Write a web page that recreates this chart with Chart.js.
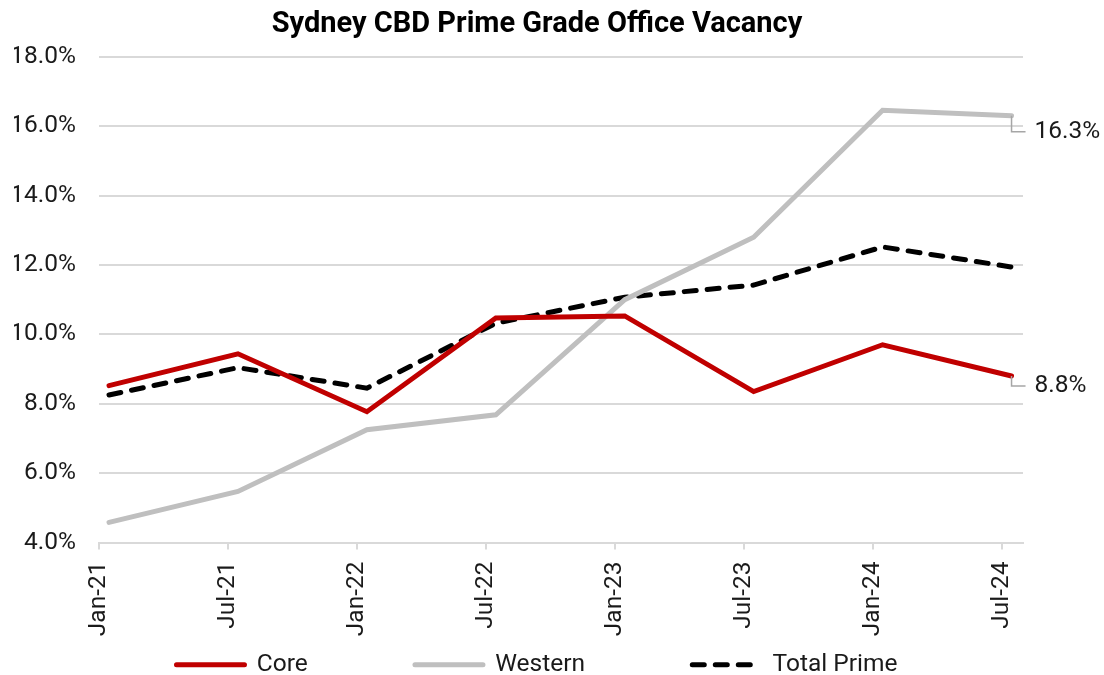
<!DOCTYPE html>
<html>
<head>
<meta charset="utf-8">
<script src="https://cdn.jsdelivr.net/npm/chart.js@4"></script>
<style>
    html, body { margin: 0; background: #fff; }
    #wrap { width: 1104px; height: 675px; }
</style>
</head>
<body>
<div id="wrap"><canvas id="chartCanvas"></canvas></div>
<script>
// DATA
const surveyDates = ['2021-01-15', '2021-07-15', '2022-01-15', '2022-07-15', '2023-01-15', '2023-07-15', '2024-01-15', '2024-07-15'];
const tickLabels = ['Jan-21', 'Jul-21', 'Jan-22', 'Jul-22', 'Jan-23', 'Jul-23', 'Jan-24', 'Jul-24'];
const core = [8.52, 9.44, 7.77, 10.47, 10.53, 8.35, 9.70, 8.8];
const western = [4.58, 5.47, 7.25, 7.68, 11.0, 12.8, 16.46, 16.3];
const totalPrime = [8.25, 9.04, 8.45, 10.32, 11.07, 11.42, 12.52, 11.94];
const yTicks = [4, 6, 8, 10, 12, 14, 16, 18];

const FONT = 'Roboto, sans-serif';
const TEXT = '#1a1a1a';
const GRID = '#d9d9d9';
const FS = 24.5;

// months since Jan-21
function toMonths(s) {
    const [y, m, d] = s.split('-').map(Number);
    return (y - 2021) * 12 + (m - 1) + (d - 1) / 30;
}

function toPoints(values) {
    return values.map((v, i) => ({ x: toMonths(surveyDates[i]), y: v }));
}

// END LABELS WITH LEADER
const endLabels = {
    id: 'endLabels',
    afterDatasetsDraw(chart, args, opts) {
        const { ctx } = chart;
        ctx.save();
        opts.items.forEach(item => {
            const meta = chart.getDatasetMeta(item.dataset);
            const pt = meta.data[meta.data.length - 1];
            const values = chart.data.datasets[item.dataset].data;
            const value = values[values.length - 1].y;
            const ly = pt.y + item.dy;
            ctx.strokeStyle = '#a6a6a6';
            ctx.lineWidth = 1.5;
            ctx.beginPath();
            ctx.moveTo(pt.x, pt.y);
            ctx.lineTo(pt.x, ly);
            ctx.lineTo(pt.x + 14, ly);
            ctx.stroke();
            ctx.fillStyle = TEXT;
            ctx.font = FS + 'px ' + FONT;
            ctx.textAlign = 'left';
            ctx.textBaseline = 'middle';
            ctx.fillText(value.toFixed(1) + '%', pt.x + 23, ly);
        });
        ctx.restore();
    }
};

const ctx = document.getElementById('chartCanvas').getContext('2d');

new Chart(ctx, {
    type: 'line',
    data: {
        datasets: [{
            label: 'Core',
            data: toPoints(core),
            borderColor: '#c00000',
            borderWidth: 5,
            borderCapStyle: 'round'
        }, {
            label: 'Western',
            data: toPoints(western),
            borderColor: '#bfbfbf',
            borderWidth: 5,
            borderCapStyle: 'round'
        }, {
            label: 'Total Prime',
            data: toPoints(totalPrime),
            borderColor: '#000000',
            borderWidth: 5,
            borderDash: [12, 11],
            borderCapStyle: 'round'
        }]
    },
    options: {
        responsive: true,
        maintainAspectRatio: false,
        animation: false,
        layout: { padding: { left: 14, right: 44, top: 0, bottom: -12 } },
        elements: { point: { radius: 0 }, line: { tension: 0 } },
        plugins: {
            title: {
                display: true,
                text: 'Sydney CBD Prime Grade Office Vacancy',
                color: '#000',
                font: { family: FONT, size: 29, weight: 'bold' },
                padding: { top: 7, bottom: 15 }
            },
            legend: {
                position: 'bottom',
                labels: {
                    usePointStyle: true,
                    pointStyle: 'line',
                    pointStyleWidth: 68,
                    padding: 10,
                    color: TEXT,
                    font: { family: FONT, size: FS },
                    generateLabels(chart) {
                        const items = Chart.defaults.plugins.legend.labels.generateLabels(chart);
                        return items.map((it, i) => {
                            const ds = chart.data.datasets[it.datasetIndex];
                            return {
                                ...it,
                                lineWidth: ds.borderWidth,
                                lineDash: ds.borderDash || [],
                                lineCap: 'round',
                                text: i < items.length - 1 ? it.text + ' '.repeat(16) : it.text
                            };
                        });
                    }
                }
            },
            tooltip: { enabled: false },
            endLabels: {
                items: [{ dataset: 1, dy: 16 }, { dataset: 0, dy: 10 }]
            }
        },
        scales: {
            x: {
                type: 'linear',
                min: 0,
                max: 43,
                afterBuildTicks: s => { s.ticks = tickLabels.map((_, i) => ({ value: i * 6 })); },
                afterFit: s => { s.height = 100; },
                grid: { drawOnChartArea: false, drawTicks: true, tickLength: 7, color: GRID, lineWidth: 2 },
                border: { display: true, color: GRID, width: 2 },
                ticks: {
                    autoSkip: false,
                    minRotation: 90,
                    maxRotation: 90,
                    padding: 12,
                    color: TEXT,
                    font: { family: FONT, size: FS },
                    callback: v => tickLabels[Math.round(v / 6)]
                }
            },
            y: {
                min: 4,
                max: 18,
                afterBuildTicks: s => { s.ticks = yTicks.map(v => ({ value: v })); },
                afterFit: s => { s.width = 85; },
                grid: { color: GRID, lineWidth: 2, drawTicks: false },
                border: { display: false },
                ticks: {
                    padding: 23,
                    color: TEXT,
                    font: { family: FONT, size: FS },
                    callback: v => v.toFixed(1) + '%'
                }
            },
            yRight: {
                position: 'right',
                min: 0,
                max: 1,
                afterFit: s => { s.width = 37; },
                grid: { display: false, drawTicks: false },
                border: { display: false },
                ticks: { display: false }
            }
        }
    },
    plugins: [endLabels]
});
</script>
</body>
</html>
